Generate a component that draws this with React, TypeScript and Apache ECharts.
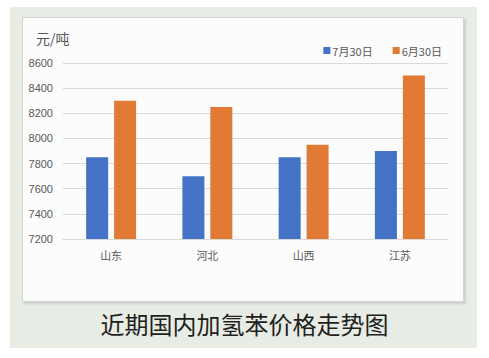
import React, { useEffect, useRef } from "react";
import * as echarts from "echarts";

const categories = ["山东", "河北", "山西", "江苏"];
const seriesNames = ["7月30日", "6月30日"];
const july30 = [7850, 7700, 7850, 7900];
const june30 = [8300, 8250, 7950, 8500];
const unitLabel = "元/吨";
const chartTitle = "近期国内加氢苯价格走势图";

export default function App() {
  const ref = useRef<HTMLDivElement>(null);
  useEffect(() => {
    if (!ref.current) return;
    const chart = echarts.init(ref.current, undefined, { renderer: "svg" });
    chart.setOption({
      animation: false,
      backgroundColor: "#ffffff",
      graphic: [
        { type: "rect", z: -10, shape: { x: 10, y: 7, width: 467, height: 341 }, style: { fill: "#e7ece5" } },
        {
          type: "rect", z: -9, shape: { x: 22.5, y: 17.5, width: 441, height: 284 },
          style: { fill: "#fcfcfc", stroke: "#d4d6d2", lineWidth: 1, shadowBlur: 2, shadowOffsetX: 2, shadowOffsetY: 2, shadowColor: "rgba(0,0,0,0.12)" },
        },
        {
          type: "text", left: 36, top: 31,
          style: { text: unitLabel, fill: "#595959", fontSize: 14, fontFamily: "Noto Sans CJK SC" },
        },
        {
          type: "text", left: "center", top: 311,
          style: { text: chartTitle, fill: "#231f1c", fontSize: 24, fontWeight: "normal", fontFamily: "Noto Sans CJK SC" },
        },
      ],
      legend: {
        right: 42, top: 40,
        itemWidth: 7, itemHeight: 7, itemGap: 20,
        icon: "rect",
        textStyle: { color: "#595959", fontSize: 11, fontFamily: "Noto Sans CJK SC", padding: [0, 0, 0, -3] },
        data: seriesNames,
      },
      grid: { left: 63, right: 41, top: 63, bottom: 119, containLabel: false },
      xAxis: {
        type: "category",
        data: categories,
        axisLine: { lineStyle: { color: "#d9d9d9" } },
        axisTick: { show: false },
        axisLabel: { color: "#595959", fontSize: 11, fontFamily: "Noto Sans CJK SC", margin: 10 },
      },
      yAxis: {
        type: "value",
        min: 7200, max: 8600, interval: 200,
        axisLine: { show: false },
        axisTick: { show: false },
        splitLine: { lineStyle: { color: "#d9d9d9" } },
        axisLabel: { color: "#595959", fontSize: 11, fontFamily: "Liberation Sans", margin: 10, formatter: (v: number) => String(v) },
      },
      series: [
        { name: seriesNames[0], type: "bar", data: july30, barWidth: 22, barGap: "27%", itemStyle: { color: "#4472c4" } },
        { name: seriesNames[1], type: "bar", data: june30, barWidth: 22, barGap: "27%", itemStyle: { color: "#e07a35" } },
      ],
    });
    return () => chart.dispose();
  }, []);
  return <div ref={ref} style={{ position: "fixed", left: 0, top: 0, width: 489, height: 358 }} />;
}
